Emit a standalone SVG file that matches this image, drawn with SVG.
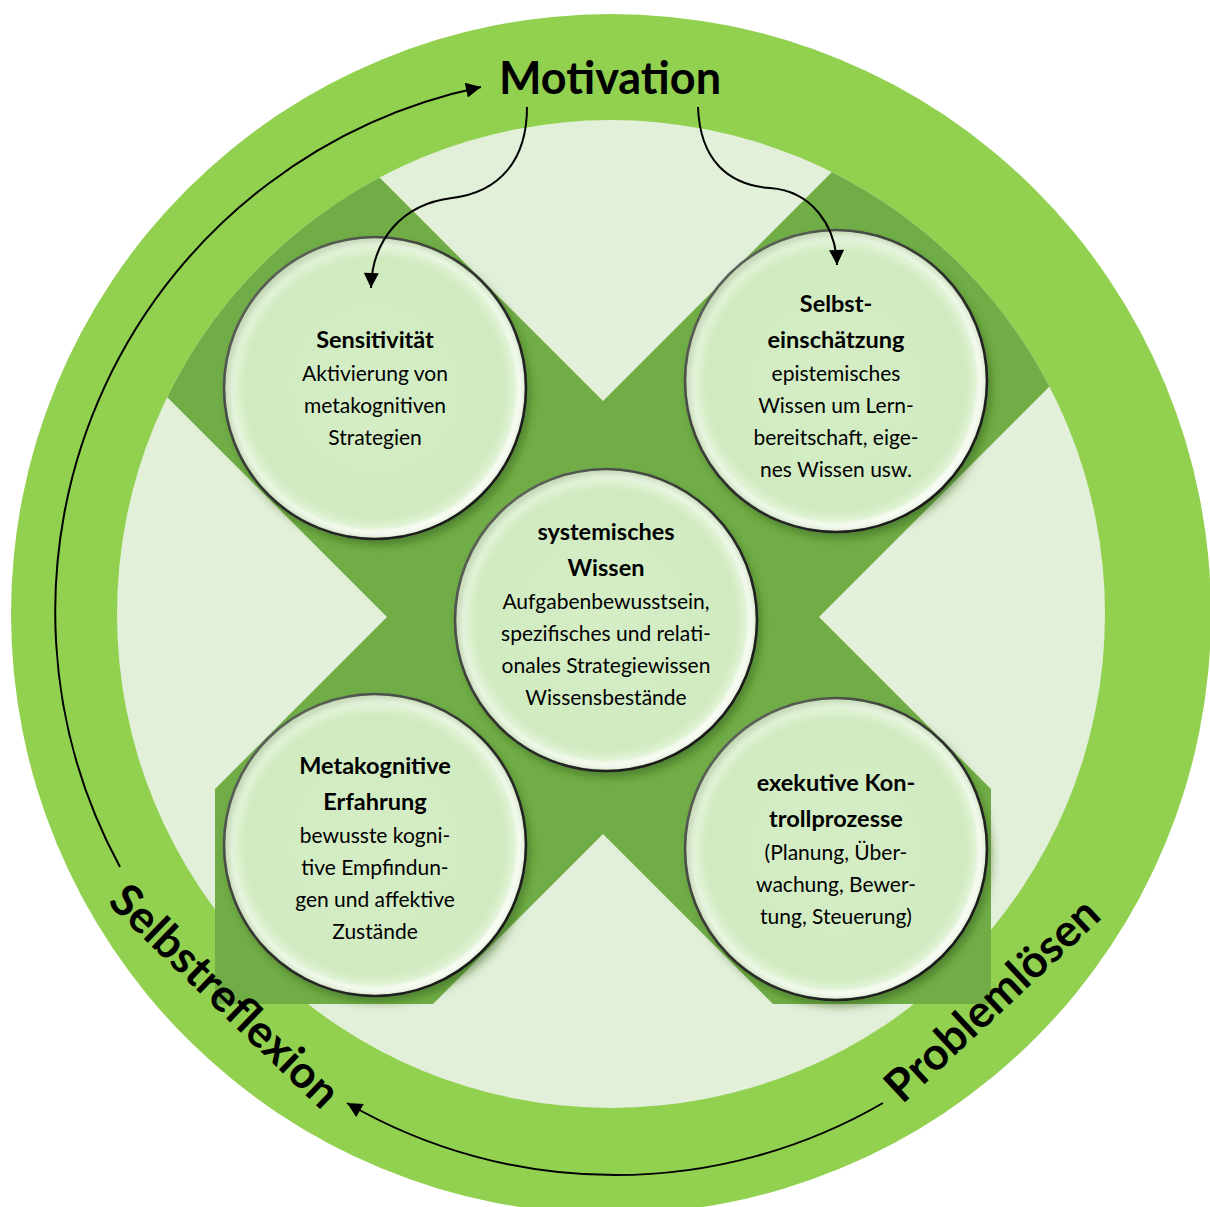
<svg xmlns="http://www.w3.org/2000/svg" width="1210" height="1207" viewBox="0 0 1210 1207">
  <style>
    .big { font-family: Lato, "Open Sans", "Liberation Sans", sans-serif; font-weight: 700; font-size: 45px; fill: #000; text-anchor: middle; }
    .title { font-family: Lato, "Open Sans", "Liberation Sans", sans-serif; font-weight: 700; font-size: 23.5px; fill: #000; text-anchor: middle; }
    .body { font-family: Lato, "Open Sans", "Liberation Sans", sans-serif; font-weight: 400; font-size: 21px; fill: #000; text-anchor: middle; }
    .conn { fill: none; stroke: #000; stroke-width: 2; }
    .rim { fill: none; stroke: url(#rimGrad); stroke-width: 2.6; }
    .bevel { fill: none; stroke: url(#bevelGrad); stroke-width: 8; filter: url(#soft); }
    .disk { fill: url(#diskGrad); filter: url(#shadow); }
  </style>
  <defs>
    <marker id="arrow" viewBox="0 0 10 10" refX="10" refY="5" markerWidth="18" markerHeight="15" markerUnits="userSpaceOnUse" orient="auto">
      <path d="M0,0 L10,5 L0,10 Z" fill="#000"/>
    </marker>
    <radialGradient id="diskGrad" cx="0.5" cy="0.5" r="0.5">
      <stop offset="0" stop-color="#D4EDC5"/>
      <stop offset="0.86" stop-color="#D1EBC1"/>
      <stop offset="0.95" stop-color="#E6F5DC"/>
      <stop offset="1" stop-color="#B9D4A6"/>
    </radialGradient>
    <linearGradient id="bevelGrad" x1="0" y1="0" x2="1" y2="1">
      <stop offset="0" stop-color="#9FB98F" stop-opacity="0.55"/>
      <stop offset="0.45" stop-color="#FFFFFF" stop-opacity="0.2"/>
      <stop offset="1" stop-color="#FFFFFF" stop-opacity="1"/>
    </linearGradient>
    <linearGradient id="rimGrad" x1="0" y1="0" x2="1" y2="1">
      <stop offset="0" stop-color="#6E7468"/>
      <stop offset="0.5" stop-color="#2E2E2E"/>
      <stop offset="1" stop-color="#111"/>
    </linearGradient>
    <filter id="shadow" x="-20%" y="-20%" width="150%" height="150%">
      <feDropShadow dx="4" dy="6" stdDeviation="5" flood-color="#2F5A17" flood-opacity="0.55"/>
    </filter>
    <filter id="soft" x="-10%" y="-10%" width="120%" height="120%">
      <feGaussianBlur stdDeviation="1.8"/>
    </filter>
    <clipPath id="xClip">
      <circle cx="611" cy="614" r="494"/>
      <rect x="0" y="617" width="1210" height="600"/>
    </clipPath>
  </defs>

  <rect x="0" y="0" width="1210" height="1207" fill="#FFFFFF"/>

  <g id="background">
    <circle cx="611" cy="614" r="600" fill="#92D050"/>
    <circle cx="611" cy="614" r="494" fill="#E2EFD9"/>
    <path id="cross" clip-path="url(#xClip)" fill="#70AD47"
      d="M603,401 L1103,-99 L1319,117 L819,617 L991,789 L991,1004 L773,1004 L603,834 L433,1004 L215,1004 L215,789 L387,617 L-113,117 L103,-99 Z"/>
  </g>

  <g id="labels">
    <text class="big" x="610" y="94">Motivation</text>
    <text class="big" transform="translate(224,997) rotate(44)" x="0" y="14">Selbstreflexion</text>
    <text class="big" transform="translate(993,1001) rotate(-43)" x="0" y="14">Problemlösen</text>
  </g>

  <g id="node-sensitivitaet">
    <circle class="disk" cx="375" cy="388" r="151"/>
    <circle class="bevel" cx="375" cy="388" r="146"/>
    <circle class="rim" cx="375" cy="388" r="151"/>
    <text class="title" x="375" y="348">Sensitivität</text>
    <text class="body" x="375" y="381">Aktivierung von</text>
    <text class="body" x="375" y="413">metakognitiven</text>
    <text class="body" x="375" y="445">Strategien</text>
  </g>

  <g id="node-selbsteinschaetzung">
    <circle class="disk" cx="836" cy="381" r="151"/>
    <circle class="bevel" cx="836" cy="381" r="146"/>
    <circle class="rim" cx="836" cy="381" r="151"/>
    <text class="title" x="836" y="312">Selbst-</text>
    <text class="title" x="836" y="348">einschätzung</text>
    <text class="body" x="836" y="381">epistemisches</text>
    <text class="body" x="836" y="413">Wissen um Lern-</text>
    <text class="body" x="836" y="445">bereitschaft, eige-</text>
    <text class="body" x="836" y="477">nes Wissen usw.</text>
  </g>

  <g id="node-systemisches-wissen">
    <circle class="disk" cx="606" cy="620" r="151"/>
    <circle class="bevel" cx="606" cy="620" r="146"/>
    <circle class="rim" cx="606" cy="620" r="151"/>
    <text class="title" x="606" y="540">systemisches</text>
    <text class="title" x="606" y="576">Wissen</text>
    <text class="body" x="606" y="609">Aufgabenbewusstsein,</text>
    <text class="body" x="606" y="641">spezifisches und relati-</text>
    <text class="body" x="606" y="673">onales Strategiewissen</text>
    <text class="body" x="606" y="705">Wissensbestände</text>
  </g>

  <g id="node-metakognitive-erfahrung">
    <circle class="disk" cx="375" cy="845" r="151"/>
    <circle class="bevel" cx="375" cy="845" r="146"/>
    <circle class="rim" cx="375" cy="845" r="151"/>
    <text class="title" x="375" y="774">Metakognitive</text>
    <text class="title" x="375" y="810">Erfahrung</text>
    <text class="body" x="375" y="843">bewusste kogni-</text>
    <text class="body" x="375" y="875">tive Empfindun-</text>
    <text class="body" x="375" y="907">gen und affektive</text>
    <text class="body" x="375" y="939">Zustände</text>
  </g>

  <g id="node-exekutive-kontrollprozesse">
    <circle class="disk" cx="836" cy="849" r="151"/>
    <circle class="bevel" cx="836" cy="849" r="146"/>
    <circle class="rim" cx="836" cy="849" r="151"/>
    <text class="title" x="836" y="791">exekutive Kon-</text>
    <text class="title" x="836" y="827">trollprozesse</text>
    <text class="body" x="836" y="860">(Planung, Über-</text>
    <text class="body" x="836" y="892">wachung, Bewer-</text>
    <text class="body" x="836" y="924">tung, Steuerung)</text>
  </g>

  <g id="connectors">
    <path class="conn" marker-end="url(#arrow)" d="M120,867 A536,536 0 0 1 481,87"/>
    <path class="conn" marker-end="url(#arrow)" d="M883,1103 A534,534 0 0 1 347,1103"/>
    <path class="conn" marker-end="url(#arrow)" d="M527,107 C527,160 500,192 452,198 C402,204 372,240 371,288"/>
    <path class="conn" marker-end="url(#arrow)" d="M698,107 C700,160 728,185 770,188 C812,191 836,226 837,265"/>
  </g>
</svg>
